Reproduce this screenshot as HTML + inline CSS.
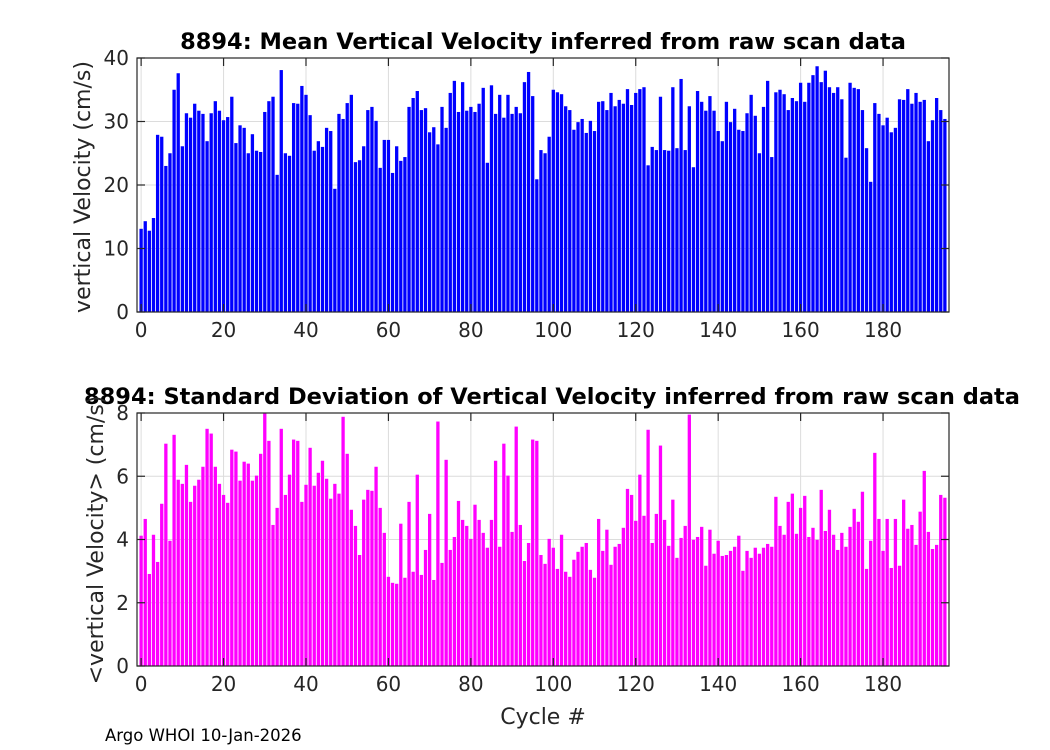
<!DOCTYPE html>
<html><head><meta charset="utf-8">
<style>
html,body{margin:0;padding:0;background:#fff;}
svg{display:block;font-family:"DejaVu Sans","Liberation Sans",sans-serif;}
</style></head>
<body>
<svg id="fig" width="1050" height="750" viewBox="0 0 1050 750" xmlns="http://www.w3.org/2000/svg">
<rect x="0" y="0" width="1050" height="750" fill="#fff"/>
<text x="543" y="49" font-size="22.5" font-weight="bold" text-anchor="middle" fill="#000">8894: Mean Vertical Velocity inferred from raw scan data</text>
<text x="552" y="404" font-size="22.5" font-weight="bold" text-anchor="middle" fill="#000">8894: Standard Deviation of Vertical Velocity inferred from raw scan data</text>
<text transform="translate(90,187) rotate(-90)" font-size="22" text-anchor="middle" fill="#262626">vertical Velocity (cm/s)</text>
<text transform="translate(103,540) rotate(-90)" font-size="22" text-anchor="middle" fill="#262626">&lt;vertical Velocity&gt; (cm/s)</text>
<text x="543" y="724" font-size="22" text-anchor="middle" fill="#262626">Cycle #</text>
<text x="105" y="741" font-size="16.5" fill="#000">Argo WHOI 10-Jan-2026</text>
<g id="top"></g>
<g id="bot"></g>
</svg>
<script>
const meanValues = [13.1,14.3,12.8,14.8,27.9,27.6,23.0,25.0,35.0,37.6,
26.1,31.3,30.6,32.8,31.7,31.2,26.9,31.3,33.2,31.7,
30.2,30.7,33.9,26.6,29.4,29.0,25.0,28.0,25.4,25.2,
31.5,33.2,33.9,21.6,38.1,25.0,24.6,32.9,32.8,35.6,
34.2,31.0,25.4,26.9,26.0,29.0,28.5,19.4,31.2,30.4,
32.9,34.2,23.6,23.9,26.1,31.8,32.3,30.1,22.7,27.1,
27.1,21.9,26.1,23.8,24.4,32.3,33.7,34.8,31.8,32.1,
28.3,29.1,26.4,32.3,29.0,34.5,36.4,31.5,36.2,31.7,
32.3,31.5,32.8,35.3,23.5,35.7,31.2,34.2,30.6,34.2,
31.2,32.3,31.3,36.2,37.8,34.0,20.9,25.5,25.0,27.6,
35.0,34.6,34.3,32.4,31.8,28.7,29.9,30.4,28.2,30.1,
28.5,33.1,33.2,31.8,34.5,32.4,33.4,32.8,35.1,32.6,
34.5,35.1,35.4,23.1,26.0,25.5,33.9,25.5,25.4,35.4,
25.8,36.7,25.5,32.4,22.8,34.8,33.1,31.7,34.0,31.7,
28.5,26.9,33.1,29.9,32.0,28.7,28.5,31.3,34.2,30.9,
25.0,32.3,36.4,24.4,34.6,35.0,34.3,31.8,33.7,33.2,
36.1,33.1,36.1,37.3,38.7,36.2,38.0,35.4,34.5,35.4,
33.5,24.3,36.1,35.3,35.1,31.8,25.8,20.5,32.9,31.2,
29.4,30.6,28.3,29.0,33.5,33.4,35.1,32.8,34.5,33.1,
33.4,26.9,30.2,33.7,31.8,30.4];
const stdValues = [4.12,4.65,2.91,4.15,3.29,5.13,7.03,3.96,7.31,5.89,
5.76,6.36,5.19,5.70,5.89,6.30,7.50,7.35,6.30,5.76,
5.41,5.16,6.84,6.78,5.86,6.46,6.40,5.86,6.02,6.71,
8.0,7.12,4.46,5.0,7.50,5.41,6.05,7.16,7.12,5.19,
5.73,6.90,5.70,6.11,6.49,5.92,5.29,5.76,5.45,7.88,
6.71,4.94,4.43,3.51,5.26,5.57,5.54,6.30,5.0,4.21,
2.82,2.63,2.60,4.50,2.79,5.19,2.98,6.05,2.88,3.67,
4.81,2.72,7.73,3.26,6.52,3.67,4.08,5.22,4.62,4.43,
4.02,5.10,4.62,4.21,3.74,4.62,6.49,3.77,7.03,6.02,
4.24,7.57,4.46,3.32,3.89,7.16,7.12,3.51,3.23,4.02,
3.74,3.07,4.15,2.98,2.82,3.36,3.61,3.77,3.89,3.04,
2.79,4.65,3.64,4.31,3.20,3.77,3.86,4.37,5.60,5.41,
4.59,6.05,4.75,7.47,3.89,4.81,6.97,4.62,3.80,5.26,
3.42,4.05,4.43,7.95,3.99,4.08,4.40,3.17,4.31,3.55,
3.96,3.48,3.51,3.64,3.77,4.12,3.01,3.64,3.42,3.74,
3.55,3.74,3.86,3.77,5.35,4.43,4.15,5.19,5.45,4.18,
5.0,5.38,4.08,4.37,3.99,5.57,4.27,4.94,4.15,3.67,
4.21,3.77,4.40,4.97,4.56,5.51,3.07,3.96,6.74,4.65,
3.64,4.65,3.10,4.65,3.17,5.26,4.34,4.46,3.83,4.88,
6.17,4.24,3.70,3.83,5.41,5.32];
const xTicks = [0,20,40,60,80,100,120,140,160,180];
const topYTicks = [0,10,20,30,40];
const botYTicks = [0,2,4,6,8];
const NS='http://www.w3.org/2000/svg';
function mk(tag, attrs, parent){const e=document.createElementNS(NS,tag);for(const k in attrs)e.setAttribute(k,attrs[k]);parent.appendChild(e);return e;}
function drawChart(g, vals, yTicks, ymax, top, bottom, color, prefix){
  const L=137,R=949,xmin=-1,xmax=196;
  const sx=v=>L+(v-xmin)/(xmax-xmin)*(R-L);
  const sy=v=>bottom-(v/ymax)*(bottom-top);
  xTicks.forEach(t=>{const l=mk('line',{x1:sx(t),x2:sx(t),y1:top,y2:bottom,stroke:'#dcdcdc','stroke-width':1},g);
    
    });
  yTicks.forEach(t=>{const l=mk('line',{x1:L,x2:R,y1:sy(t),y2:sy(t),stroke:'#dcdcdc','stroke-width':1},g);
    
    });
  const bw=0.8*(R-L)/(xmax-xmin);
  vals.forEach((v,i)=>{const r=mk('rect',{x:sx(i)-bw/2,y:sy(v),width:bw,height:bottom-sy(v),fill:color},g);
    
    });
  const b=mk('rect',{x:L,y:top,width:R-L,height:bottom-top,fill:'none',stroke:'#262626','stroke-width':1.2},g);
  
  
  xTicks.forEach(t=>{
    mk('line',{x1:sx(t),x2:sx(t),y1:bottom,y2:bottom-8,stroke:'#262626','stroke-width':1.2},g);
    mk('line',{x1:sx(t),x2:sx(t),y1:top,y2:top+8,stroke:'#262626','stroke-width':1.2},g);
    const tx=mk('text',{x:sx(t),y:bottom+25,'font-size':20,'text-anchor':'middle',fill:'#262626'},g);
    tx.textContent=t;
    
    
  });
  yTicks.forEach(t=>{
    mk('line',{x1:L,x2:L+8,y1:sy(t),y2:sy(t),stroke:'#262626','stroke-width':1.2},g);
    mk('line',{x1:R,x2:R-8,y1:sy(t),y2:sy(t),stroke:'#262626','stroke-width':1.2},g);
    const tx=mk('text',{x:L-8,y:sy(t)+7,'font-size':20,'text-anchor':'end',fill:'#262626'},g);
    tx.textContent=t;
    
    
  });
}
const gt=document.getElementById('top');


const gb=document.getElementById('bot');


drawChart(gt, meanValues, topYTicks, 40, 58, 312, '#0000ff', 'mean');
drawChart(gb, stdValues, botYTicks, 8, 413, 666, '#ff00ff', 'std');
</script>
</body></html>
